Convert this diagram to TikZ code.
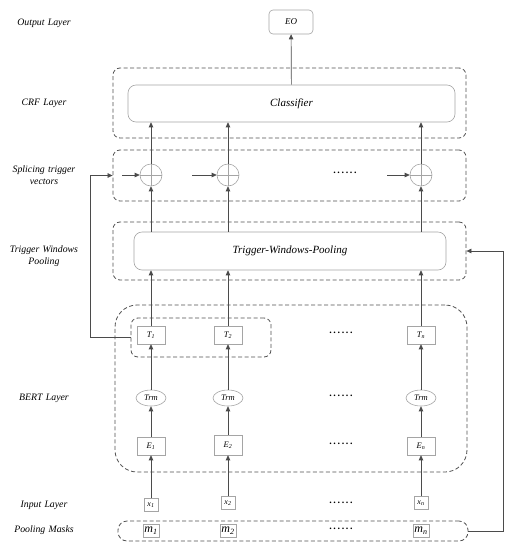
\documentclass[tikz,border=0pt]{standalone}
\usepackage{fontspec}
\setmainfont{Liberation Serif}
\usepackage{tikz}
\usetikzlibrary{shapes.geometric, arrows.meta, positioning}
\definecolor{mybox}{RGB}{165,165,165}
\definecolor{mydash}{RGB}{80,80,80}
\definecolor{myline}{RGB}{75,75,75}
\tikzset{
  layer/.style={rectangle, draw=mydash, dashed, dash pattern=on 4pt off 2.5pt,
    rounded corners=7pt, line width=0.8pt, inner sep=0pt},
  bigbox/.style={rectangle, draw=mybox, fill=white, rounded corners=8pt,
    inner sep=0pt, font=\itshape\fontsize{11}{13}\selectfont, line width=0.6pt},
  unit/.style={rectangle, draw=mybox, fill=white, minimum width=28pt,
    minimum height=18pt, inner sep=0pt, font=\itshape\fontsize{8.5}{10}\selectfont,
    line width=0.6pt},
  inbox/.style={rectangle, draw=mybox, fill=white, minimum width=14pt,
    minimum height=13pt, inner sep=0pt, font=\itshape\fontsize{8}{9}\selectfont,
    line width=0.6pt},
  maskcell/.style={rectangle, draw=mybox, fill=white, minimum width=16pt,
    minimum height=13pt, inner sep=0pt, font=\itshape\fontsize{12}{13}\selectfont,
    line width=0.6pt},
  trm/.style={ellipse, draw=mybox, fill=white, minimum width=30pt,
    minimum height=16pt, inner sep=0pt, font=\itshape\fontsize{8.5}{10}\selectfont,
    line width=0.6pt},
  plus/.style={circle, draw=mybox, minimum size=22pt, inner sep=0pt, line width=0.6pt,
    path picture={\draw[mybox, line width=0.6pt]
      (path picture bounding box.north) -- (path picture bounding box.south)
      (path picture bounding box.west) -- (path picture bounding box.east);}},
  tag/.style={font=\itshape\fontsize{9.8}{11.5}\selectfont, text width=90pt, align=center},
  dots/.style={font=\bfseries\fontsize{10}{10}\selectfont},
  arrow/.style={-{Triangle[length=5pt, width=4.5pt]}, line width=0.7pt, color=myline},
  line/.style={line width=0.7pt, color=myline}
}
\begin{document}
\begin{tikzpicture}[x=1pt, y=-1pt]
  \useasboundingbox (0,0) rectangle (516,550);
  % layer names on the left
  \node[tag] (tagout) at (44,23) {Output Layer};
  \node[tag] (tagcrf) at (44,103) {CRF Layer};
  \node[tag] (tagspl) at (44,175) {Splicing trigger\\vectors};
  \node[tag] (tagtwp) at (44,256) {Trigger Windows\\Pooling};
  \node[tag] (tagbert) at (44,398) {BERT Layer};
  \node[tag] (taginp) at (44,505) {Input Layer};
  \node[tag] (tagmask) at (44,530) {Pooling Masks};
  % dashed layer frames
  \node[layer, minimum width=353pt, minimum height=70pt] (crf) at (289.5,103) {};
  \node[layer, minimum width=353pt, minimum height=51pt] (splice) at (289.5,175.5) {};
  \node[layer, minimum width=353pt, minimum height=58pt] (twpbox) at (289.5,251) {};
  \node[layer, rounded corners=22pt, minimum width=352pt, minimum height=167pt] (bert) at (291,388.5) {};
  \node[layer, minimum width=140pt, minimum height=39pt] (tgroup) at (201,337.5) {};
  \node[layer, rounded corners=9pt, minimum width=350pt, minimum height=20pt] (maskbox) at (293,531) {};
  % output and the two wide blocks
  \node[bigbox, rounded corners=4pt, minimum width=44pt, minimum height=24pt,
    font=\itshape\fontsize{9}{10}\selectfont] (eo) at (291,22) {EO};
  \node[bigbox, minimum width=327pt, minimum height=37pt] (classifier) at (291.5,103.5) {Classifier};
  \node[bigbox, minimum width=312pt, minimum height=38pt] (twp) at (290,251) {Trigger-Windows-Pooling};
  % splicing
  \node[plus] (p1) at (151,175) {};
  \node[plus] (p2) at (228,175) {};
  \node[plus] (pn) at (421,175) {};
  \coordinate (in1) at (122,175);
  \coordinate (in2) at (192,175);
  \coordinate (in3) at (387,175);
  \node[dots] (dspl) at (345,173) {.\,.\,.\,.\,.\,.};
  % BERT columns
  \node[unit] (t1) at (151,335) {T\textsubscript{1}};
  \node[unit] (t2) at (228,335) {T\textsubscript{2}};
  \node[unit] (tn) at (421,335) {T\textsubscript{n}};
  \node[dots] (dt) at (341,333) {.\,.\,.\,.\,.\,.};
  \node[trm] (r1) at (151,398) {Trm};
  \node[trm] (r2) at (228,398) {Trm};
  \node[trm] (rn) at (421,398) {Trm};
  \node[dots] (dr) at (341,396) {.\,.\,.\,.\,.\,.};
  \node[unit] (e1) at (151,446) {E\textsubscript{1}};
  \node[unit, minimum height=20pt] (e2) at (228,445) {E\textsubscript{2}};
  \node[unit] (en) at (421,446) {E\textsubscript{n}};
  \node[dots] (de) at (341,444) {.\,.\,.\,.\,.\,.};
  % inputs and masks
  \node[inbox] (x1) at (151,505) {x\textsubscript{1}};
  \node[inbox] (x2) at (228,503) {x\textsubscript{2}};
  \node[inbox] (xn) at (421,503) {x\textsubscript{n}};
  \node[dots] (dx) at (341,503) {.\,.\,.\,.\,.\,.};
  \node[maskcell] (m1) at (151,531) {m\textsubscript{1}};
  \node[maskcell] (m2) at (228,531) {m\textsubscript{2}};
  \node[maskcell] (mn) at (421,531) {m\textsubscript{n}};
  \node[dots] (dm) at (341,529) {.\,.\,.\,.\,.\,.};
  % upward flow
  \draw[arrow] (x1) -- (e1);
  \draw[arrow] (x2) -- (e2);
  \draw[arrow] (xn) -- (en);
  \draw[arrow] (e1) -- (r1);
  \draw[arrow] (e2) -- (r2);
  \draw[arrow] (en) -- (rn);
  \draw[arrow] (r1) -- (t1);
  \draw[arrow] (r2) -- (t2);
  \draw[arrow] (rn) -- (tn);
  \draw[arrow] (t1) -- (t1 |- twp.south);
  \draw[arrow] (t2) -- (t2 |- twp.south);
  \draw[arrow] (tn) -- (tn |- twp.south);
  \draw[arrow] (p1 |- twp.north) -- (p1);
  \draw[arrow] (p2 |- twp.north) -- (p2);
  \draw[arrow] (pn |- twp.north) -- (pn);
  \draw[arrow] (p1) -- (p1 |- classifier.south);
  \draw[arrow] (p2) -- (p2 |- classifier.south);
  \draw[arrow] (pn) -- (pn |- classifier.south);
  \draw[arrow] (classifier) -- (eo);
  % inputs into the circles
  \draw[arrow] (in1) -- (p1);
  \draw[arrow] (in2) -- (p2);
  \draw[arrow] (in3) -- (pn);
  % feedback lines
  \draw[arrow] (tgroup.west) -- ++(-40,0) |- (splice.west);
  \draw[arrow] (maskbox.east) -- ++(35,0) |- (twpbox.east);
\end{tikzpicture}
\end{document}
